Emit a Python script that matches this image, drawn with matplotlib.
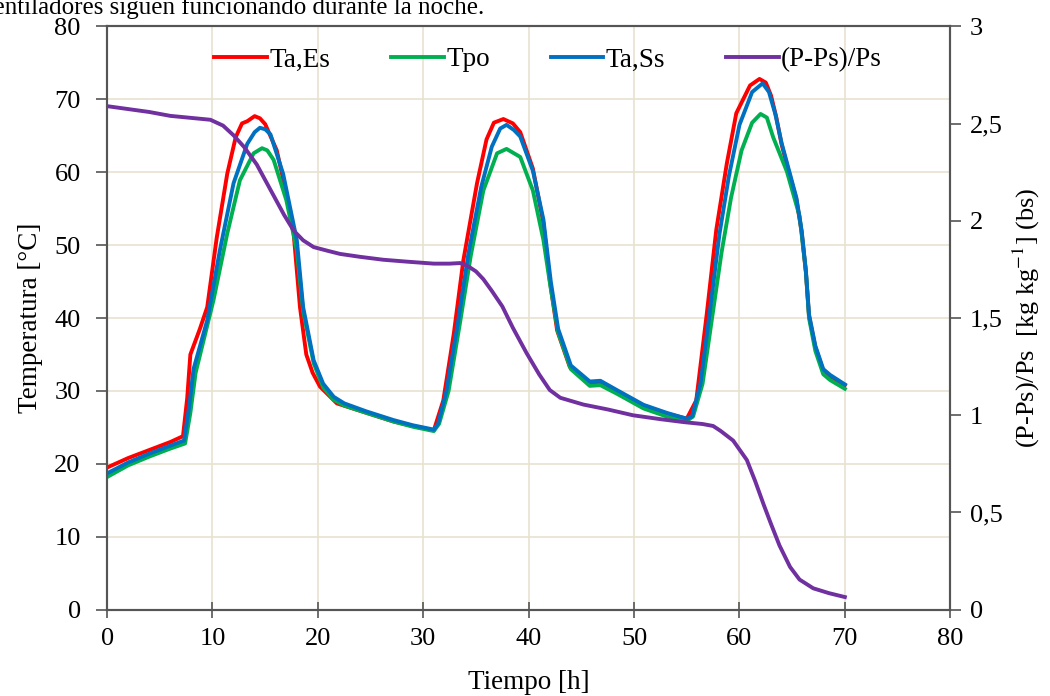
import numpy as np
import matplotlib.pyplot as plt

# Ta,Es (red)
t_es = [0, 2, 4, 6, 7.2, 7.6, 7.9, 8.8, 9.5, 10.4, 11.4, 12.2, 12.8, 13.3, 14.0, 14.5, 15.0,
        16.1, 17.0, 17.7, 18.3, 18.9, 19.5, 20.2, 21.8, 24.6, 27.2, 29, 31.0, 31.9, 32.9,
        33.8, 35.1, 36.0, 36.7, 37.6, 38.5, 39.2, 40.4, 41.4, 42.0, 42.7, 43.9, 45.8, 46.8,
        48.4, 50.9, 53.1, 55.0, 55.9, 56.9, 57.8, 58.8, 59.7, 61.0, 61.9, 62.5, 63.0, 63.5,
        64.0, 64.6, 65.4, 65.9, 66.3, 66.6, 67.2, 67.95, 68.6, 70]
ta_es = [19.5, 20.8, 21.9, 23.0, 23.8, 29, 35.0, 38.5, 41.5, 51.0, 59.8, 64.8, 66.7, 67.0,
         67.7, 67.4, 66.6, 63.0, 57.1, 51.6, 41.5, 35.0, 32.5, 30.6, 28.3, 27.0, 25.8, 25.2,
         24.6, 28.7, 37.9, 47.9, 58.5, 64.5, 66.8, 67.3, 66.7, 65.5, 60.5, 53.0, 45.2, 38.3,
         33.3, 31.0, 31.0, 29.9, 28.0, 26.9, 26.2, 28.7, 40.6, 52.1, 61.2, 68.1, 71.9, 72.8,
         72.3, 70.5, 67.5, 63.8, 60.5, 56.3, 51.8, 46.3, 40.3, 36.0, 32.8, 32.0, 30.8]

# Tpo (green)
t_po = [0, 2, 4, 6, 7.4, 7.9, 8.4, 10.1, 11.4, 12.6, 13.9, 14.7, 15.2, 15.8, 17.0, 18.0,
        18.6, 19.6, 20.5, 21.5, 22.5, 24.6, 27.2, 29, 31.0, 31.5, 32.4, 33.5, 34.5, 35.7,
        37.0, 37.9, 39.2, 40.4, 41.4, 42.1, 42.8, 44.0, 45.8, 46.8, 48.4, 50.9, 53.1, 55.0,
        55.6, 56.5, 57.4, 58.3, 59.2, 60.2, 61.2, 62.0, 62.6, 63.2, 64.5, 65.7, 66.3, 66.6,
        67.2, 67.95, 68.6, 70]
tpo = [18.2, 19.8, 21.0, 22.1, 22.8, 27, 32.5, 42.5, 51.6, 58.9, 62.6, 63.3, 63.0, 61.7,
       56.2, 49.3, 41.0, 33.8, 30.5, 28.8, 28.0, 27.0, 25.8, 25.1, 24.5, 25.5, 30, 39.5,
       48.5, 57.5, 62.6, 63.2, 62.1, 57.5, 50.7, 44.0, 38.0, 33.0, 30.7, 30.8, 29.6, 27.6,
       26.5, 25.9, 26.5, 31, 40, 49, 56.5, 63, 66.8, 68.0, 67.5, 64.8, 60.1, 54.0, 46.5,
       40.0, 35.5, 32.3, 31.5, 30.3]

# Ta,Ss (blue)
t_ss = [0, 2, 4, 6, 7.3, 7.8, 8.2, 9.5, 10.7, 12.0, 13.3, 14.0, 14.5, 15.0, 15.5, 16.7,
        18.0, 18.6, 19.6, 20.5, 21.5, 22.5, 24.6, 27.2, 29, 31.0, 31.4, 32.2, 33.3, 34.3,
        35.5, 36.5, 37.3, 37.9, 38.6, 39.2, 40.4, 41.4, 42.1, 42.8, 44.0, 45.8, 46.8, 48.4,
        50.9, 53.1, 55.0, 55.5, 56.3, 57.2, 58.1, 59.0, 60.0, 61.2, 62.2, 62.8, 63.4, 64.0,
        64.6, 65.4, 65.9, 66.3, 66.6, 67.2, 67.95, 68.6, 70]
ta_ss = [18.7, 20.2, 21.4, 22.5, 23.2, 28, 33.0, 39.7, 49.3, 58.5, 63.9, 65.5, 66.1, 65.9,
         65.2, 59.8, 50.7, 41.5, 34.2, 31.0, 29.2, 28.3, 27.2, 26.0, 25.3, 24.7, 25.5, 30,
         39.5, 49.0, 58.0, 63.5, 66.0, 66.5, 65.8, 64.9, 60.2, 53.5, 45.0, 38.5, 33.5, 31.3,
         31.4, 30.1, 28.1, 27.0, 26.2, 26.5, 31, 41, 51.5, 59.5, 66.5, 71.0, 72.2, 71.0,
         68.0, 64.0, 60.8, 56.5, 52.0, 46.5, 40.5, 36.2, 33.0, 32.2, 30.9]

# (P-Ps)/Ps (purple, right axis)
t_p = [0, 2, 4, 6, 7.9, 9.8, 11.0, 12.0, 13.0, 14.2, 15.0, 15.8, 16.8, 17.7, 18.6, 19.6,
       21.0, 22.1, 24.0, 26.2, 28.5, 31.0, 32.5, 33.5, 34.3, 35.0, 35.7, 36.5, 37.5, 38.5,
       39.8, 41.0, 42.0, 43.0, 45.2, 47.5, 49.9, 52.5, 54.7, 56.5, 57.5, 58.2, 59.4, 60.7,
       61.5, 62.3, 63.0, 63.8, 64.8, 65.7, 67.0, 68.5, 70]
humedad = [2.59, 2.575, 2.56, 2.54, 2.53, 2.52, 2.49, 2.44, 2.38, 2.29, 2.21, 2.13, 2.03,
           1.95, 1.90, 1.865, 1.845, 1.83, 1.815, 1.80, 1.79, 1.78, 1.78, 1.783, 1.765, 1.74,
           1.70, 1.64, 1.56, 1.45, 1.32, 1.21, 1.13, 1.09, 1.055, 1.03, 1.00, 0.98, 0.965,
           0.955, 0.945, 0.92, 0.87, 0.77, 0.66, 0.54, 0.44, 0.33, 0.22, 0.155, 0.11, 0.085,
           0.065]

left_ticks = np.arange(0, 81, 10)
right_ticks = [0, 0.5, 1, 1.5, 2, 2.5, 3]
right_labels = ["0", "0,5", "1", "1,5", "2", "2,5", "3"]

plt.rcParams["font.family"] = ["Liberation Serif", "DejaVu Serif"]
plt.rcParams["mathtext.fontset"] = "stix"

fig = plt.figure(figsize=(10.5, 6.96), dpi=100)
ax = fig.add_axes([0.102, 0.124, 0.803, 0.838])
ax2 = ax.twinx()

lw = 2.8
l1, = ax.plot(t_es, ta_es, color="#ff0000", lw=lw, label="Ta,Es", solid_joinstyle="round")
l2, = ax.plot(t_po, tpo, color="#00b050", lw=lw, label="Tpo", solid_joinstyle="round")
l3, = ax.plot(t_ss, ta_ss, color="#0070c0", lw=lw, label="Ta,Ss", solid_joinstyle="round")
l4, = ax2.plot(t_p, humedad, color="#7030a0", lw=lw, label="(P-Ps)/Ps", solid_joinstyle="round")

ax.set_xlim(0, 80)
ax.set_ylim(0, 80)
ax2.set_ylim(0, 3)
ax.set_xticks(left_ticks)
ax.set_yticks(left_ticks)
ax2.set_yticks(right_ticks)
ax2.set_yticklabels(right_labels)

ax.grid(True, color="#e8e2d0", lw=1.2)
ax.set_axisbelow(True)
for a in (ax, ax2):
    for s in a.spines.values():
        s.set_color("#555555")
        s.set_linewidth(1.5)
ax.tick_params(axis="x", direction="inout", length=11, width=1.2, color="#555555",
               labelsize=19, pad=8)
ax.tick_params(axis="y", direction="out", length=8, width=1.2, color="#555555",
               labelsize=19, pad=11)
ax2.tick_params(axis="y", direction="out", length=8, width=1.2, color="#555555",
                labelsize=19, pad=6)

ax.set_xlabel("Tiempo [h]", fontsize=19.5, labelpad=14)
ax.set_ylabel("Temperatura [°C]", fontsize=19.5, labelpad=8)
ax2.set_ylabel("(P-Ps)/Ps  [kg kg$^{-1}$] (bs)", fontsize=19, labelpad=6)

ax.legend(handles=[l1, l2, l3, l4], loc="center", bbox_to_anchor=(0.523, 0.9425),
          ncol=4, frameon=False, fontsize=19.5, handlelength=1.95, handletextpad=0.08,
          columnspacing=2.25, borderpad=0, borderaxespad=0)

fig.text(-0.018, 0.980, "ventiladores siguen funcionando durante la noche.", fontsize=18,
         ha="left", va="baseline")

fig.savefig("out.png", dpi=100)
